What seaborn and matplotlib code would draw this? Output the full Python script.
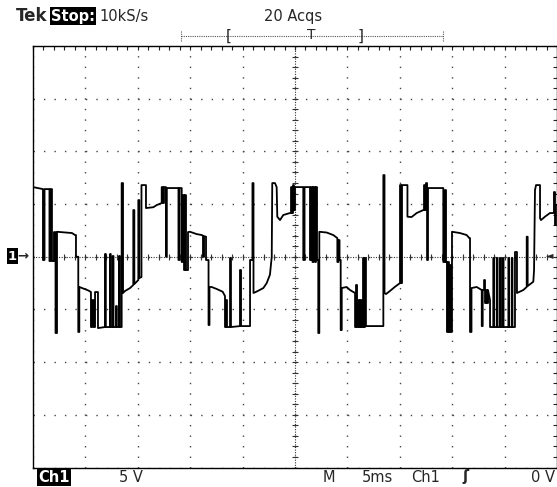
import numpy as np
import pandas as pd
import matplotlib
matplotlib.use("Agg")
import matplotlib.pyplot as plt
from matplotlib.lines import Line2D
from matplotlib.ticker import MultipleLocator
import seaborn as sns

# ---------------- data (read from the screen capture) ----------------
# time in ms (5 ms/div, trigger at 0), voltage in V (5 V/div)
time_ms = [
    -25.0, -24.05, -24.05, -23.90, -23.90, -23.43,
    -23.43, -23.33, -23.33, -23.19, -23.19, -23.00,
    -23.00, -22.85, -22.85, -22.71, -22.71, -21.28,
    -20.99, -20.90, -20.90, -20.68, -20.68, -20.58,
    -20.58, -19.72, -19.47, -19.47, -19.37, -19.37,
    -19.23, -19.23, -19.08, -19.08, -18.80, -18.80,
    -18.13, -18.13, -18.05, -18.05, -17.65, -17.65,
    -17.58, -17.58, -17.40, -17.40, -17.32, -17.32,
    -17.08, -17.08, -17.00, -17.00, -16.79, -16.79,
    -16.72, -16.72, -16.54, -16.54, -16.41, -16.41,
    -16.22, -15.74, -15.43, -15.43, -15.33, -15.33,
    -14.95, -14.95, -14.86, -14.86, -14.65, -14.65,
    -14.22, -14.22, -13.52, -13.20, -12.72, -12.72,
    -12.60, -12.60, -12.50, -12.50, -12.31, -12.31,
    -12.23, -12.23, -11.12, -11.12, -11.02, -11.02,
    -10.81, -10.81, -10.73, -10.73, -10.59, -10.59,
    -10.50, -10.50, -10.40, -10.40, -10.21, -10.21,
    -10.02, -9.38, -8.90, -8.78, -8.78, -8.68,
    -8.68, -8.49, -8.49, -8.25, -8.25, -8.16,
    -8.16, -7.95, -7.47, -6.90, -6.68, -6.68,
    -6.58, -6.58, -6.49, -6.49, -6.20, -6.20,
    -6.11, -6.11, -5.25, -5.25, -5.15, -5.15,
    -4.29, -4.29, -4.06, -4.06, -3.96, -3.96,
    -3.65, -3.02, -2.70, -2.39, -2.22, -2.17,
    -1.91, -1.75, -1.69, -1.43, -1.12, -0.48,
    -0.38, -0.38, -0.29, -0.29, -0.19, -0.19,
    -0.10, -0.10, 0.00, 0.00, 0.79, 0.79,
    0.91, 0.91, 1.43, 1.43, 1.53, 1.53,
    1.67, 1.67, 1.75, 1.75, 1.91, 1.91,
    2.00, 2.00, 2.10, 2.10, 2.22, 2.22,
    2.32, 2.32, 3.02, 3.65, 4.04, 4.04,
    4.15, 4.15, 4.25, 4.25, 4.36, 4.36,
    4.46, 4.46, 4.93, 5.25, 5.73, 5.73,
    5.82, 5.82, 5.92, 5.92, 6.06, 6.06,
    6.15, 6.15, 6.25, 6.25, 6.35, 6.35,
    6.49, 6.49, 6.58, 6.58, 6.68, 6.68,
    6.77, 6.77, 8.43, 8.43, 8.54, 8.54,
    8.68, 9.06, 9.54, 10.02, 10.02, 10.11,
    10.11, 10.21, 10.21, 10.73, 10.73, 11.13,
    11.61, 12.24, 12.31, 12.31, 12.40, 12.40,
    12.50, 12.50, 12.60, 12.60, 12.69, 12.69,
    14.15, 14.15, 14.31, 14.31, 14.41, 14.41,
    14.50, 14.50, 14.60, 14.60, 14.69, 14.69,
    14.79, 14.79, 14.89, 14.89, 14.98, 14.98,
    15.74, 16.38, 16.63, 16.70, 16.70, 16.84,
    16.84, 17.34, 17.82, 17.82, 17.91, 17.91,
    18.04, 18.04, 18.13, 18.13, 18.22, 18.22,
    18.32, 18.32, 18.42, 18.42, 18.46, 18.61,
    18.61, 18.92, 18.92, 19.00, 19.00, 19.25,
    19.25, 19.33, 19.33, 19.56, 19.56, 19.64,
    19.64, 19.82, 19.82, 19.90, 19.90, 20.36,
    20.36, 20.43, 20.43, 20.68, 20.68, 20.75,
    20.75, 20.99, 20.99, 21.18, 21.18, 21.78,
    22.11, 22.11, 22.20, 22.20, 22.74, 22.81,
    22.90, 23.00, 23.38, 23.38, 23.47, 23.85,
    24.33, 24.71, 24.71, 24.81, 24.81, 24.90,
    24.90, 25.0,
]
volts = [
    6.61, 6.42, -0.31, -0.31, 6.42, 6.42,
    -0.41, -0.41, 6.42, 6.42, -0.41, -0.41,
    2.34, 2.34, -7.24, -7.24, 2.37, 2.25,
    2.06, 2.06, 0.00, 0.00, -7.14, -7.14,
    -2.87, -3.20, -3.35, -6.67, -6.67, -4.11,
    -4.11, -6.67, -6.67, -3.35, -3.35, -6.77,
    -6.67, 0.26, 0.26, -6.67, -6.67, 0.26,
    0.26, -6.67, -6.67, 0.07, 0.07, -6.67,
    -6.67, -4.68, -4.68, -6.67, -6.67, 0.07,
    0.07, -6.67, -6.67, 6.99, 6.99, -3.44,
    -3.25, -2.97, -2.68, 4.43, 4.43, -2.59,
    -2.21, 5.38, 5.38, -2.02, -1.93, 6.80,
    6.80, 4.62, 4.70, 4.90, 5.10, 6.61,
    6.61, 5.10, 5.10, 6.61, 6.61, 0.00,
    0.00, 6.52, 6.52, -0.31, -0.31, 6.52,
    6.52, -0.50, -0.50, 5.85, 5.85, -1.26,
    -1.26, 5.85, 5.85, -1.26, -1.26, 2.34,
    2.37, 2.15, 2.06, 2.00, 0.00, 0.00,
    1.96, 1.90, -0.31, -0.31, -6.48, -6.48,
    -2.87, -2.87, -3.06, -3.32, -3.73, -6.67,
    -6.67, -4.11, -4.11, -6.67, -6.67, -0.12,
    -0.12, -6.67, -6.58, -1.26, -1.26, -6.58,
    -6.58, -0.31, -0.31, 6.99, 6.99, -3.44,
    -3.30, -2.97, -2.50, -1.70, 0.00, 6.99,
    6.99, 6.61, 3.80, 3.48, 3.96, 4.15,
    4.15, 6.61, 6.61, 4.15, 4.15, 6.80,
    6.80, 4.43, 4.43, 6.61, 6.61, -0.31,
    -0.31, 6.61, 6.61, -0.31, -0.31, 6.61,
    6.61, -0.50, -0.50, 6.61, 6.61, -0.50,
    -0.50, 6.61, 6.61, -0.31, -0.31, -7.24,
    -7.24, 2.37, 2.30, 2.06, 1.77, -0.50,
    -0.50, 1.58, 1.58, -0.31, -0.31, -6.96,
    -6.96, -2.97, -2.87, -3.16, -3.44, -6.67,
    -6.67, -2.68, -2.68, -6.67, -6.67, -4.11,
    -4.11, -6.67, -6.67, -4.11, -4.11, -6.67,
    -6.67, -0.12, -0.12, -6.67, -6.67, -0.12,
    -0.12, -6.58, -6.58, 7.75, 7.75, -3.44,
    -3.54, -3.25, -2.85, -2.50, 6.80, 6.80,
    -2.50, -2.50, 6.80, 6.80, 3.80, 3.77,
    4.15, 4.43, 4.43, 6.80, 6.80, 4.43,
    4.43, 6.99, 6.99, -0.31, -0.31, 6.52,
    6.52, -0.50, -0.50, 6.33, 6.33, -0.50,
    -0.50, -7.14, -7.14, -0.50, -0.50, -7.14,
    -7.14, -0.79, -0.79, -7.14, -7.14, 2.37,
    2.25, 2.06, 1.77, 1.77, -7.14, -7.14,
    -2.97, -2.87, -3.16, -6.58, -6.58, -3.16,
    -3.16, -2.21, -2.21, -4.39, -4.39, -3.16,
    -3.16, -4.39, -4.39, -3.16, -3.40, -4.11,
    -6.67, -6.67, -0.12, -0.12, -6.67, -6.67,
    -0.12, -0.12, -6.67, -6.67, -0.12, -0.12,
    -6.67, -6.67, -0.12, -0.12, -6.67, -6.67,
    -0.12, -0.12, -6.67, -6.67, -0.12, -0.12,
    -6.67, -6.67, 0.45, 0.45, -3.44, -3.16,
    -2.87, 1.90, 1.90, -2.78, -2.37, -1.26,
    6.33, 6.80, 6.80, 3.67, 3.48, 3.80,
    4.15, 4.15, 6.14, 6.14, 3.01, 3.01,
    4.91, 4.91,
]

# screen read-outs
brand = "Tek"
run_state = "Stop:"
sample_rate = "10kS/s"
acq_count = "20 Acqs"
channel = "Ch1"
volts_per_div = "5 V"
time_base = "5ms"
trig_source = "Ch1"
trig_level = "0 V"

# ---------------- figure ----------------
sns.set_style("white")
plt.rcParams["font.family"] = ["DejaVu Sans"]

W, H = 557, 487
fig = plt.figure(figsize=(W / 100, H / 100), dpi=100)
fig.patch.set_facecolor("white")
L, R, T, B = 33, 557, 46, 467.5
ax = fig.add_axes([L / W, 1 - B / H, (R - L) / W, (B - T) / H])

df = pd.DataFrame({"t": time_ms, "v": volts})
sns.lineplot(data=df, x="t", y="v", sort=False, estimator=None,
             color="black", lw=1.3, ax=ax, zorder=5)

ax.set_xlim(-25, 25)
ax.set_ylim(-20, 20)
ax.set_xlabel("")
ax.set_ylabel("")
ax.xaxis.set_major_locator(MultipleLocator(5))
ax.yaxis.set_major_locator(MultipleLocator(5))
ax.xaxis.set_minor_locator(MultipleLocator(1))
ax.yaxis.set_minor_locator(MultipleLocator(1))
ax.tick_params(which="both", direction="in", length=3, width=0.8,
               top=True, right=True, color="#222",
               labelbottom=False, labelleft=False)
for s in ax.spines.values():
    s.set_color("black")
    s.set_linewidth(1.0)

# dotted graticule: one dot per minor division
px_per_pt = 100 / 72
glw = 1.0
ypx = (B - T) / 40
xpx = (R - L) / 50
gap_v = ypx / px_per_pt / glw - 1
gap_h = xpx / px_per_pt / glw - 1
ax.xaxis.grid(True, which="major", color="#444", lw=glw, ls=(0, (1, gap_v)))
ax.yaxis.grid(True, which="major", color="#444", lw=glw, ls=(0, (1, gap_h)))

# centre lines with cross ticks
ax.axhline(0, color="#333", lw=0.8, ls=(0, (1, 1.3)), zorder=2)
ax.axvline(0, color="#333", lw=0.8, ls=(0, (1, 1.3)), zorder=2)
xm = np.arange(-25, 25.5, 1)
ym = np.arange(-20, 20.5, 1)
ax.plot(xm, np.zeros_like(xm), ls="none", marker="|", ms=5, mew=0.8, color="#333", zorder=2)
ax.plot(np.zeros_like(ym), ym, ls="none", marker="_", ms=5, mew=0.8, color="#333", zorder=2)


def ftext(x, y, s, **kw):
    return fig.text(x / W, 1 - y / H, s, **kw)


fs = 10.5
ftext(16, 16, brand, fontsize=12, fontweight="bold", va="center", ha="left")
ftext(51, 16, run_state, fontsize=fs, fontweight="bold", color="white", va="center", ha="left",
      bbox=dict(facecolor="black", edgecolor="none", pad=0.8))
ftext(99, 16, sample_rate, fontsize=fs, va="center", ha="left")
ftext(293, 16, acq_count, fontsize=fs, va="center", ha="center")

# record / trigger position bar
bar_y = 1 - 36 / H
fig.add_artist(Line2D([181 / W, 443 / W], [bar_y, bar_y], color="#555", lw=0.8, ls=(0, (1, 1))))
for xe in (181, 443):
    fig.add_artist(Line2D([xe / W, xe / W], [1 - 31 / H, 1 - 42 / H], color="#555", lw=0.8, ls=(0, (1, 1))))
ftext(229, 36, "[", fontsize=11, va="center", ha="center")
ftext(311, 35, "T", fontsize=10, va="center", ha="center")
ftext(361, 36, "]", fontsize=11, va="center", ha="center")

# bottom read-outs
yb = 477
ftext(38, yb, channel, fontsize=fs, fontweight="bold", color="white", va="center", ha="left",
      bbox=dict(facecolor="black", edgecolor="none", pad=0.8))
ftext(131, yb, volts_per_div, fontsize=fs, va="center", ha="center")
ftext(329, yb, "M", fontsize=fs, va="center", ha="center")
ftext(377, yb, time_base, fontsize=fs, va="center", ha="center")
ftext(426, yb, trig_source, fontsize=fs, va="center", ha="center")
ftext(465, yb, "ʃ", fontsize=fs, fontweight="bold", va="center", ha="center")
ftext(555, yb, trig_level, fontsize=fs, va="center", ha="right")

# channel ground marker and trigger level marker
ftext(8, 256, "1", fontsize=9.5, fontweight="bold", color="white", va="center", ha="left",
      bbox=dict(facecolor="black", edgecolor="none", pad=0.8))
ftext(17, 256, "→", fontsize=9.5, fontweight="bold", va="center", ha="left")
ftext(553, 255, "◄", fontsize=7, va="center", ha="right")

fig.savefig("out.png", dpi=100)
